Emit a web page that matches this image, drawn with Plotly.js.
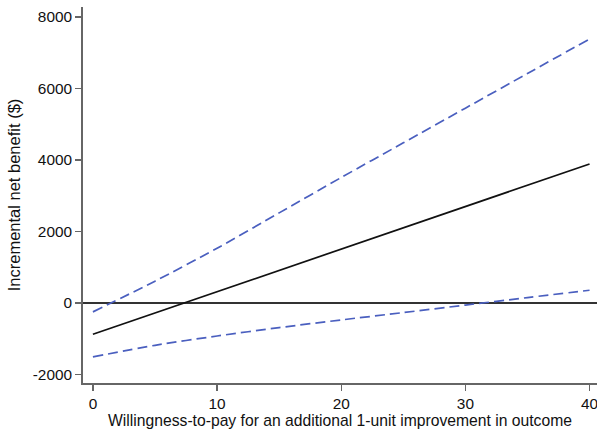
<!DOCTYPE html>
<html>
<head>
<meta charset="utf-8">
<script src="https://cdn.plot.ly/plotly-3.0.1.min.js"></script>
<style>html,body{margin:0;padding:0;background:#fff;}#chart{width:597px;height:429px;}</style>
</head>
<body>
<div id="chart"></div>
<script>
var wtp = [0, 5, 10, 15, 20, 25, 30, 35, 40];
var inbMean = [-876, -281, 315, 910, 1506, 2101, 2697, 3292, 3888];
var inbUpper = [-250, 610, 1530, 2520, 3510, 4480, 5450, 6420, 7385];
var inbLower = [-1510, -1185, -925, -690, -475, -270, -60, 150, 355];
var yTicks = [-2000, 0, 2000, 4000, 6000, 8000];
var xTicks = [0, 10, 20, 30, 40];
var xTitle = 'Willingness-to-pay for an additional 1-unit improvement in outcome';
var yTitle = 'Incremental net benefit ($)';

var blue = '#4a5fbf';
var traces = [
  {x: wtp, y: inbUpper, mode: 'lines', line: {color: blue, width: 1.7, dash: '10px,5px', shape: 'spline', smoothing: 0.8}, hoverinfo: 'skip'},
  {x: wtp, y: inbLower, mode: 'lines', line: {color: blue, width: 1.7, dash: '10px,5px', shape: 'spline', smoothing: 0.8}, hoverinfo: 'skip'},
  {x: wtp, y: inbMean, mode: 'lines', line: {color: '#111', width: 1.7}, hoverinfo: 'skip'}
];
var fam = '"Liberation Sans", Arial, sans-serif';
var tickFont = {family: fam, size: 15.4, color: '#111'};
var layout = {
  width: 597, height: 429,
  margin: {l: 83, r: 0, t: 7, b: 46},
  showlegend: false,
  paper_bgcolor: '#fff', plot_bgcolor: '#fff',
  font: tickFont,
  xaxis: {
    range: [-0.8, 40.6], tickvals: xTicks, ticktext: xTicks.map(String),
    showgrid: false, zeroline: false,
    showline: true, linecolor: '#666', linewidth: 1.8,
    ticks: 'outside', ticklen: 6, tickcolor: '#666', tickwidth: 1.2,
    tickfont: tickFont, ticklabeloverflow: 'allow',
    title: {text: xTitle, font: {family: fam, size: 15.7, color: '#111'}, standoff: 1},
    automargin: false
  },
  yaxis: {
    range: [-2240, 8280], tickvals: yTicks, ticktext: yTicks.map(String),
    showgrid: false,
    zeroline: true, zerolinecolor: '#333', zerolinewidth: 1.2,
    showline: true, linecolor: '#666', linewidth: 1.8,
    ticks: 'outside', ticklen: 6, tickcolor: '#666', tickwidth: 1.2,
    tickfont: tickFont,
    title: {text: yTitle, font: {family: fam, size: 16.5, color: '#111'}, standoff: 8},
    automargin: false
  }
};
Plotly.newPlot('chart', traces, layout, {staticPlot: true, displayModeBar: false});
</script>
</body>
</html>
